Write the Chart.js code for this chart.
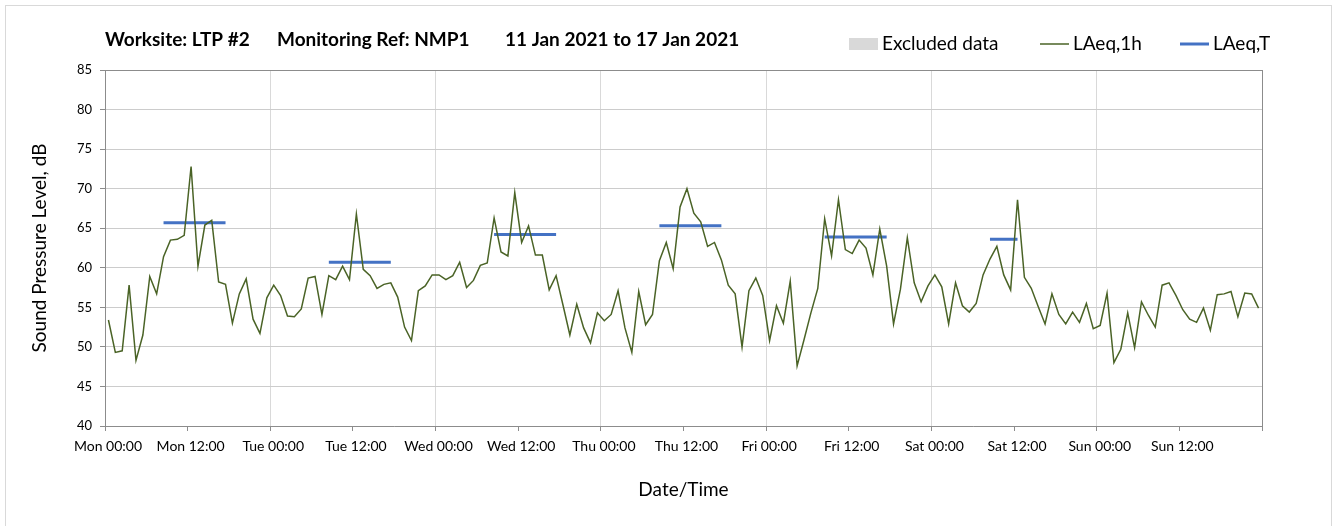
<!DOCTYPE html>
<html>
<head>
<meta charset="utf-8">
<script src="https://cdn.jsdelivr.net/npm/chart.js@4.4.1/dist/chart.umd.min.js"></script>
<style>
  body { margin: 0; background: #fff; }
  #frame { position: absolute; left: 5px; top: 5px; width: 1325px; height: 600px; border: 1px solid #d9d9d9; }
  #myChart { position: absolute; left: 0; top: 0; }
</style>
</head>
<body>
<div id="frame"></div>
<canvas id="myChart" width="1336" height="526"></canvas>
<script>
// hourly LAeq,1h values, one array per day (00:00 .. 23:00)
const monValues = [53.4, 49.3, 49.5, 57.8, 48.3, 51.5, 58.9, 56.7, 61.4, 63.5, 63.6, 64.1, 72.8, 60.2, 65.4, 66.0, 58.2, 57.9, 53.0, 56.7, 58.6, 53.5, 51.7, 56.2];
const tueValues = [57.8, 56.5, 53.9, 53.8, 54.8, 58.7, 58.9, 54.1, 59.0, 58.5, 60.2, 58.5, 66.8, 59.8, 59.0, 57.4, 57.9, 58.1, 56.3, 52.5, 50.8, 57.1, 57.7, 59.1];
const wedValues = [59.1, 58.5, 59.0, 60.7, 57.5, 58.4, 60.3, 60.6, 66.3, 62.0, 61.5, 69.5, 63.2, 65.3, 61.6, 61.6, 57.2, 59.0, 55.3, 51.5, 55.4, 52.4, 50.5, 54.3];
const thuValues = [53.3, 54.1, 57.1, 52.4, 49.3, 57.0, 52.8, 54.1, 60.9, 63.2, 59.9, 67.7, 70.0, 66.9, 65.8, 62.7, 63.2, 61.0, 57.8, 56.7, 50.0, 57.1, 58.7, 56.5];
const friValues = [50.8, 55.2, 53.0, 58.3, 47.6, 50.9, 54.3, 57.4, 66.2, 61.5, 68.6, 62.3, 61.8, 63.5, 62.5, 59.1, 64.9, 60.2, 52.9, 57.3, 63.8, 58.1, 55.7, 57.7];
const satValues = [59.1, 57.6, 52.9, 58.1, 55.2, 54.4, 55.5, 59.1, 61.1, 62.7, 59.1, 57.2, 68.6, 58.8, 57.4, 55.1, 52.9, 56.7, 54.1, 52.9, 54.4, 53.1, 55.5, 52.3];
const sunValues = [52.7, 56.8, 48.0, 49.7, 54.3, 49.9, 55.7, 54.0, 52.5, 57.8, 58.1, 56.5, 54.7, 53.5, 53.1, 54.9, 52.1, 56.6, 56.7, 57.0, 53.8, 56.8, 56.7, 54.9];

// LAeq,T over each working period (first and last hour index from Mon 00:00)
const periodStart = [8, 32, 56, 80, 104, 128];
const periodEnd = [17, 41, 65, 89, 113, 132];
const laeqT = [65.7, 60.7, 64.2, 65.3, 63.9, 63.6];

const tickLabels = ["Mon 00:00", "Mon 12:00", "Tue 00:00", "Tue 12:00", "Wed 00:00", "Wed 12:00", "Thu 00:00",
  "Thu 12:00", "Fri 00:00", "Fri 12:00", "Sat 00:00", "Sat 12:00", "Sun 00:00", "Sun 12:00"];

const titleParts = ["Worksite: LTP #2", "Monitoring Ref: NMP1", "11 Jan 2021 to 17 Jan 2021"];

const hourly = [].concat(monValues, tueValues, wedValues, thuValues, friValues, satValues, sunValues);
const hourlyPoints = hourly.map((v, i) => ({ x: i + 0.5, y: v }));

const periodPoints = [];
for (let k = 0; k < laeqT.length; k++) {
  periodPoints.push({ x: periodStart[k] + 0.5, y: laeqT[k] });
  periodPoints.push({ x: periodEnd[k] + 0.5, y: laeqT[k] });
  periodPoints.push({ x: periodEnd[k] + 1, y: null });
}

Chart.defaults.font.family = "Lato";
Chart.defaults.color = "#000";

const axisGrey = "#8c8c8c";

const headerPlugin = {
  id: "header",
  afterDraw(chart) {
    const ctx = chart.ctx;
    ctx.save();
    ctx.fillStyle = "#000";
    ctx.textBaseline = "middle";
    ctx.font = "bold 19px Lato";
    const titleX = [105, 277, 505];
    titleParts.forEach((t, k) => ctx.fillText(t, titleX[k], 40));

    // legend
    ctx.font = "19px Lato";
    const legendX = [849, 1040, 1180];
    const y = 44;
    chart.data.datasets.forEach((ds, k) => {
      const x = legendX[k];
      if (ds.legendKind === "box") {
        ctx.fillStyle = ds.backgroundColor;
        ctx.fillRect(x, y - 6, 29, 12);
      } else {
        ctx.strokeStyle = ds.borderColor;
        ctx.lineWidth = ds.borderWidth;
        ctx.beginPath();
        ctx.moveTo(x, y);
        ctx.lineTo(x + 29, y);
        ctx.stroke();
      }
      ctx.fillStyle = "#000";
      ctx.fillText(ds.label, x + 33, y);
    });
    ctx.restore();
  }
};

const ctx = document.getElementById("myChart").getContext("2d");
const chart = new Chart(ctx, {
  type: "line",
  data: {
    datasets: [
      {
        label: "Excluded data",
        legendKind: "box",
        data: [],
        backgroundColor: "#d9d9d9",
        borderColor: "#d9d9d9",
        borderWidth: 0,
      },
      {
        label: "LAeq,1h",
        data: hourlyPoints,
        borderColor: "#4a6326",
        borderWidth: 1.5,
        pointRadius: 0,
        tension: 0,
      },
      {
        label: "LAeq,T",
        data: periodPoints,
        borderColor: "#4472c4",
        borderWidth: 3,
        pointRadius: 0,
        spanGaps: false,
      },
    ]
  },
  options: {
    responsive: false,
    animation: false,
    layout: { padding: { top: 70, right: 74, left: 0, bottom: 0 } },
    plugins: {
      legend: { display: false },
      tooltip: { enabled: false },
    },
    scales: {
      x: {
        type: "linear",
        min: 0,
        max: 168,
        offset: false,
        afterFit: s => { s.height = 100; },
        ticks: {
          stepSize: 12,
          autoSkip: false,
          maxRotation: 0,
          minRotation: 0,
          padding: 7,
          labelOffset: 3,
          font: { size: 14 },
          callback: v => tickLabels[v / 12] || "",
        },
        grid: {
          color: c => (c.tick && c.tick.value === 168) ? axisGrey :
            (c.tick && c.tick.value > 0 && c.tick.value % 24 === 0) ? "#d9d9d9" : "rgba(0,0,0,0)",
          tickColor: axisGrey,
          tickLength: 5,
        },
        border: { color: axisGrey },
        title: {
          display: true,
          text: "Date/Time",
          font: { size: 19 },
          padding: { top: 0, bottom: 25 },
        },
      },
      y: {
        min: 40,
        max: 85,
        afterFit: s => { s.width = 105; },
        ticks: {
          stepSize: 5,
          padding: 8,
          font: { size: 13 },
        },
        grid: {
          color: c => (c.tick && c.tick.value === 85) ? axisGrey : "#cccccc",
          tickColor: axisGrey,
          tickLength: 5,
        },
        border: { color: axisGrey },
        title: {
          display: true,
          text: "Sound Pressure Level, dB",
          font: { size: 19 },
          padding: { top: 28, bottom: 0 },
        },
      },
    },
  },
  plugins: [headerPlugin],
});
</script>
</body>
</html>
